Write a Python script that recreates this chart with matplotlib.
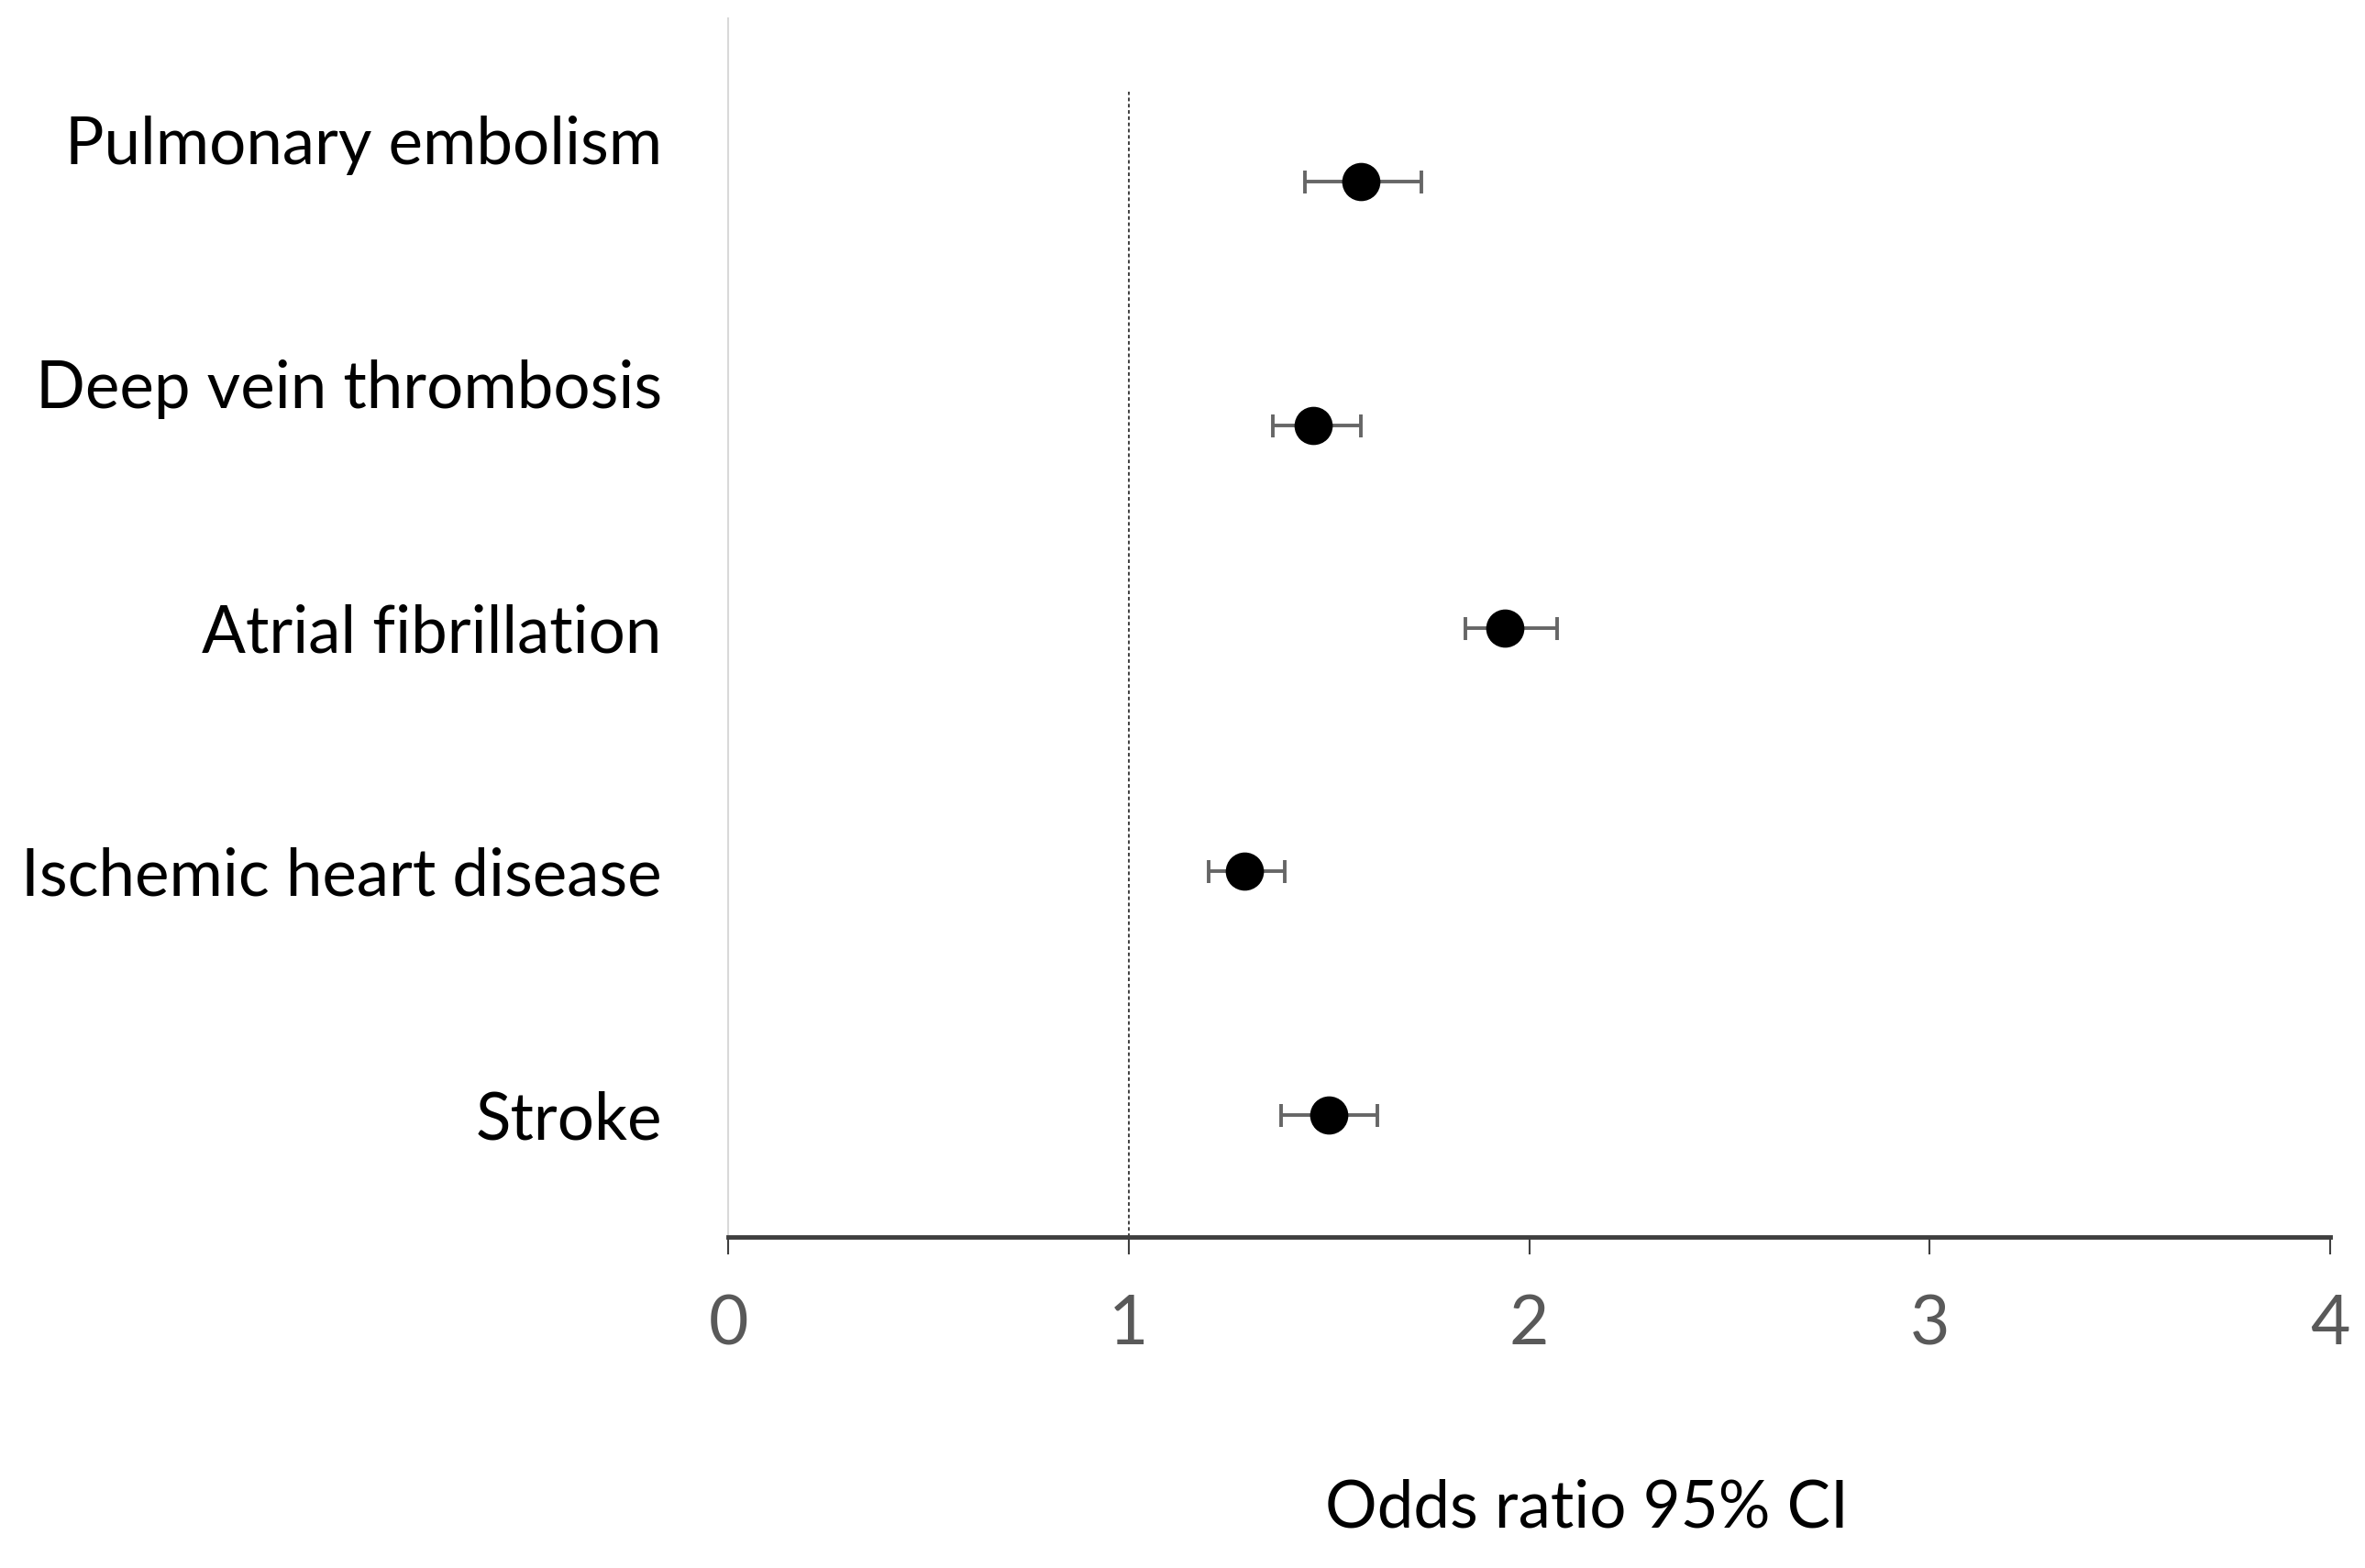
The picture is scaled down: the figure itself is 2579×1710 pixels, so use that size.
import matplotlib
matplotlib.use("Agg")
import matplotlib.pyplot as plt

plt.rcParams['font.family'] = ['Lato', 'DejaVu Sans']

# outcomes, top to bottom
categories = ["Pulmonary embolism", "Deep vein thrombosis", "Atrial fibrillation",
              "Ischemic heart disease", "Stroke"]
label_pos = [5, 4, 3, 2, 1]
# point positions (first two sit slightly below their labels in the original)
point_pos = [4.83, 3.83, 3, 2, 1]
odds_ratio = [1.58, 1.46, 1.94, 1.29, 1.50]
ci_low = [1.44, 1.36, 1.84, 1.20, 1.38]
ci_high = [1.73, 1.58, 2.07, 1.39, 1.62]
x_ticks = [0, 1, 2, 3, 4]

fig = plt.figure(figsize=(25.79, 17.10), dpi=100)
ax = fig.add_axes([0.3079, 0.2111, 0.6774, 0.7772])

err_lo = [o - l for o, l in zip(odds_ratio, ci_low)]
err_hi = [h - o for o, h in zip(odds_ratio, ci_high)]
ax.errorbar(odds_ratio, point_pos, xerr=[err_lo, err_hi], fmt='o', color='black',
            markersize=29, ecolor='#666666', elinewidth=2.8, capsize=9, capthick=2.8,
            zorder=3)

# reference line at OR = 1
ax.plot([1, 1], [0.5, 5.2], color='#404040', linestyle=(0, (2, 1.5)), linewidth=1.4, zorder=1)

ax.set_xlim(0, 4)
ax.set_ylim(0.5, 5.5)
ax.set_xticks(x_ticks)
ax.set_xticklabels([str(t) for t in x_ticks])
ax.set_yticks(label_pos)
ax.set_yticklabels(categories)

for s in ['top', 'right']:
    ax.spines[s].set_visible(False)
ax.spines['left'].set_color('#d9d9d9')
ax.spines['left'].set_linewidth(1.5)
ax.spines['bottom'].set_color('#3f3f3f')
ax.spines['bottom'].set_linewidth(3.5)

ax.tick_params(axis='x', direction='out', length=14, width=1.5, color='#3f3f3f',
               labelsize=54, labelcolor='#595959', pad=30)
ax.tick_params(axis='y', length=0, labelsize=51, labelcolor='black', pad=52)

fig.text(0.671, 0.038, "Odds ratio 95% CI", fontsize=51, ha='center', va='center',
         color='black')

fig.savefig("out.png", dpi=100, facecolor='white')
